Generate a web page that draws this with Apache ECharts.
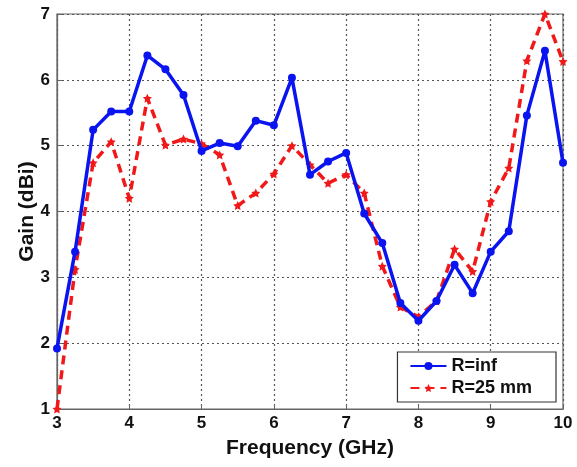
<!DOCTYPE html>
<html>
<head>
<meta charset="utf-8">
<script src="https://cdn.jsdelivr.net/npm/echarts@6/dist/echarts.min.js"></script>
<style>
  html, body { margin: 0; padding: 0; background: #fff; }
  #chart { width: 577px; height: 467px; }
</style>
</head>
<body>
<div id="chart"></div>
<script>
// Frequency sweep, 3–10 GHz in 0.25 GHz steps
const frequency = [3, 3.25, 3.5, 3.75, 4, 4.25, 4.5, 4.75, 5, 5.25, 5.5, 5.75, 6, 6.25, 6.5, 6.75, 7,
  7.25, 7.5, 7.75, 8, 8.25, 8.5, 8.75, 9, 9.25, 9.5, 9.75, 10];

// Gain for the flat antenna (R = inf)
const gainFlat = [1.92, 3.39, 5.24, 5.52, 5.52, 6.37, 6.16, 5.77, 4.92, 5.04, 4.99, 5.38, 5.31, 6.03, 4.56, 4.76, 4.89,
  3.97, 3.52, 2.61, 2.34, 2.64, 3.19, 2.76, 3.39, 3.70, 5.46, 6.44, 4.74];

// Gain for the bent antenna (R = 25 mm)
const gainBent = [1.0, 3.12, 4.74, 5.06, 4.20, 5.72, 5.01, 5.10, 5.03, 4.86, 4.09, 4.28, 4.57, 5.0, 4.71, 4.43, 4.56,
  4.28, 3.17, 2.55, 2.40, 2.64, 3.43, 3.09, 4.15, 4.66, 6.29, 7.0, 6.28];

const xTicks = [3, 4, 5, 6, 7, 8, 9, 10];
const yTicks = [1, 2, 3, 4, 5, 6, 7];

const font = 'Liberation Sans, Arial, sans-serif';
const pair = (xs, ys) => xs.map((x, i) => [x, ys[i]]);

const chart = echarts.init(document.getElementById('chart'), null, { renderer: 'canvas' });
chart.setOption({
  animation: false,
  backgroundColor: '#fff',
  grid: {
    left: 57, right: 14, top: 14, bottom: 58,
    show: true, borderColor: '#666', borderWidth: 1.2, backgroundColor: 'transparent'
  },
  xAxis: {
    type: 'value',
    min: xTicks[0], max: xTicks[xTicks.length - 1], interval: 1,
    name: 'Frequency (GHz)',
    nameLocation: 'middle', nameGap: 29, nameMoveOverlap: false,
    nameTextStyle: { fontFamily: font, fontWeight: 'bold', fontSize: 21, color: '#111' },
    axisLine: { lineStyle: { color: '#666', width: 1.2 } },
    axisTick: { inside: true, length: 5, lineStyle: { color: '#666' } },
    axisLabel: { fontFamily: font, fontWeight: 'bold', fontSize: 17, color: '#111', margin: 6 },
    splitLine: { show: true, lineStyle: { color: '#555', type: [2, 3], width: 1.2 } }
  },
  yAxis: {
    type: 'value',
    min: yTicks[0], max: yTicks[yTicks.length - 1], interval: 1,
    name: 'Gain (dBi)',
    nameLocation: 'middle', nameGap: 19, nameRotate: 90, nameMoveOverlap: false,
    nameTextStyle: { fontFamily: font, fontWeight: 'bold', fontSize: 21, color: '#111' },
    axisLine: { lineStyle: { color: '#666', width: 1.2 } },
    axisTick: { inside: true, length: 5, lineStyle: { color: '#666' } },
    axisLabel: { fontFamily: font, fontWeight: 'bold', fontSize: 17, color: '#111', margin: 7 },
    splitLine: { show: true, lineStyle: { color: '#555', type: [2, 3], width: 1.2 } }
  },
  legend: {
    orient: 'vertical',
    right: 21, bottom: 65,
    padding: [5, 24, 5, 12],
    itemGap: 4,
    itemWidth: 36, itemHeight: 10,
    borderColor: '#333', borderWidth: 1.2,
    backgroundColor: '#fff',
    textStyle: { fontFamily: font, fontWeight: 'bold', fontSize: 18, color: '#111' },
    data: ['R=inf', 'R=25 mm']
  },
  series: [
    {
      name: 'R=inf',
      type: 'line',
      data: pair(frequency, gainFlat),
      symbol: 'circle', symbolSize: 8,
      itemStyle: { color: '#0a14f0' },
      lineStyle: { color: '#0a14f0', width: 3.5 },
      z: 3
    },
    {
      name: 'R=25 mm',
      type: 'line',
      data: pair(frequency, gainBent),
      symbol: 'path://M0,-10 L2.9,-4 L9.5,-3.1 L4.8,1.6 L5.9,8.1 L0,5 L-5.9,8.1 L-4.8,1.6 L-9.5,-3.1 L-2.9,-4 Z',
      symbolSize: 9,
      itemStyle: { color: '#f01818' },
      lineStyle: { color: '#f01818', width: 3.5, type: [9, 6] },
      z: 2
    }
  ]
});
</script>
</body>
</html>
